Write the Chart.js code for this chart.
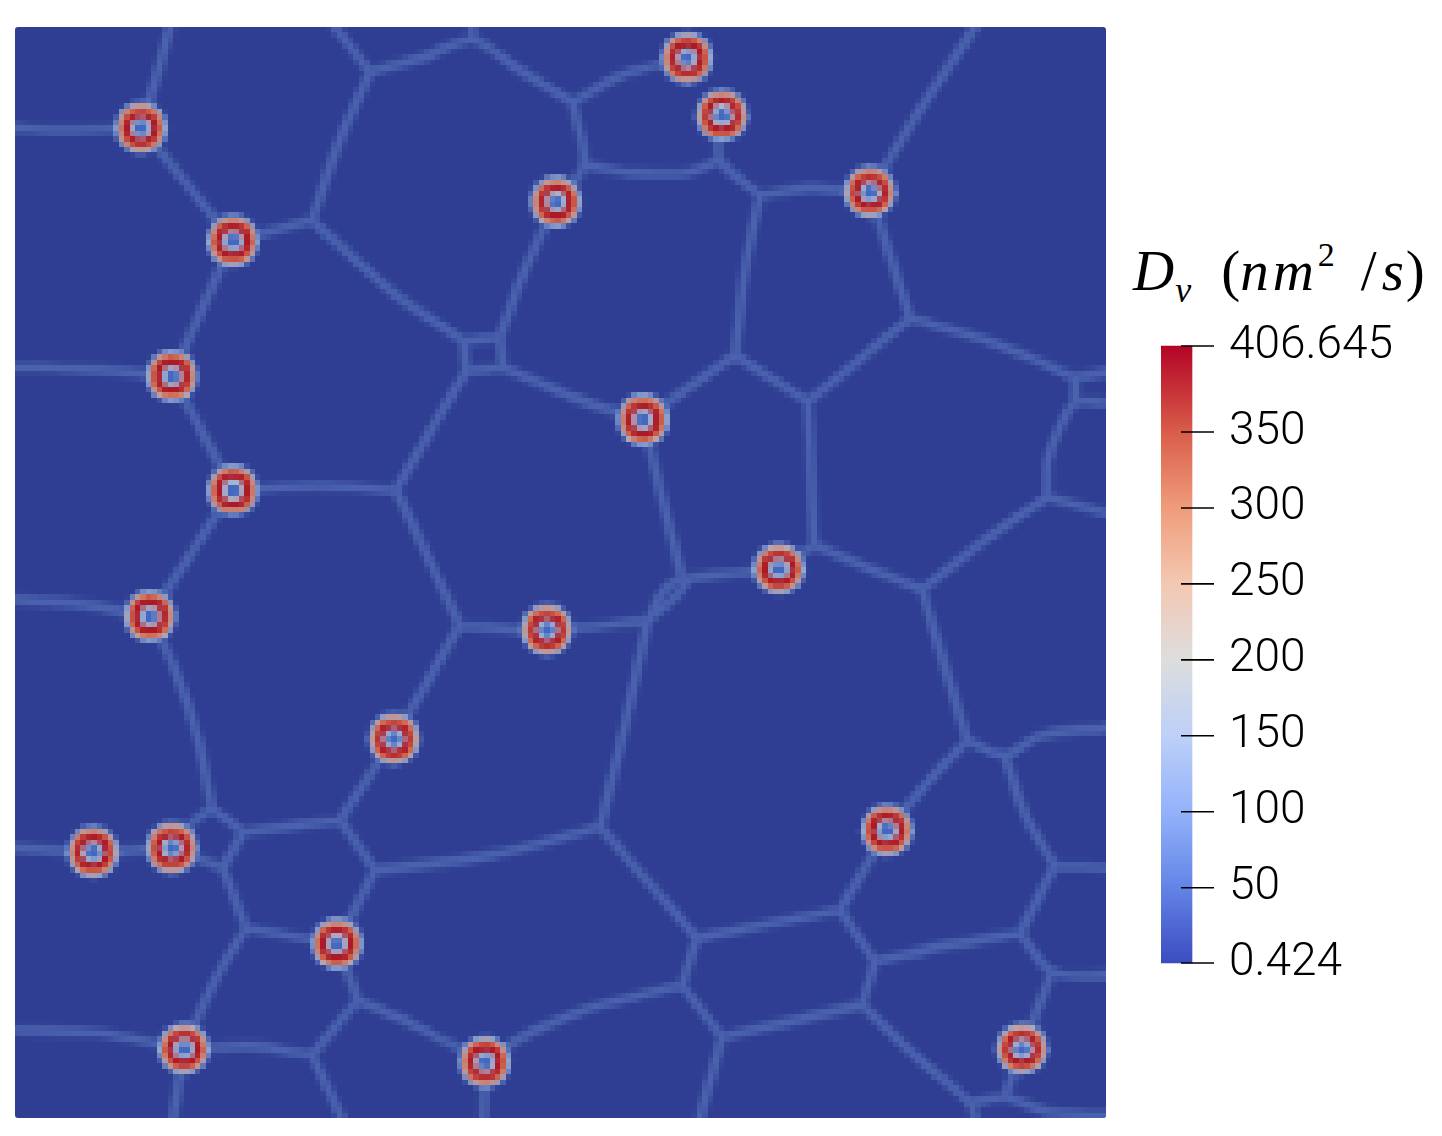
<!DOCTYPE html>
<html>
<head>
<meta charset="utf-8">
<title>D_v field</title>
<script src="https://cdn.jsdelivr.net/npm/chart.js@4"></script>
<style>
  html, body { margin: 0; background: #fff; }
  #page { position: relative; width: 1442px; height: 1136px; overflow: hidden; }
  #fieldChart { position: absolute; left: 15px; top: 27px; background: #2f3e92; border-radius: 3px; image-rendering: pixelated; }
  #barChart { position: absolute; left: 1161px; top: 320px; }
  #barTitle { position: absolute; left: 1133px; top: 236px; font: 57px "Liberation Serif", serif; color: #000; white-space: nowrap; line-height: 70px; }
  #barTitle i { font-style: italic; letter-spacing: 2px; }
  #barTitle .nm { letter-spacing: 4px; }
  #barTitle sub { font-size: 36px; vertical-align: -12px; line-height: 0; margin-left: -1px; }
  #barTitle sup { font-size: 34px; vertical-align: 24px; line-height: 0; margin-left: 0; }
  #barTitle .open { margin-left: 28px; }
  #barTitle .slash { margin-left: 26px; }
  #barTitle .s { margin-left: 5px; }
</style>
</head>
<body>
<div id="page">
  <canvas id="fieldChart" width="1091" height="1091"></canvas>
  <div id="barTitle"><i>D<sub>v</sub></i><span class="open">(</span><i class="nm">nm</i><sup>2</sup><span class="slash">/</span><i class="s">s</i>)</div>
  <canvas id="barChart" width="281" height="680"></canvas>
</div>
<script>
// 圆环中心，读自参考图
const ringX = [141, 233, 172, 233, 150, 394, 172, 93, 337, 184, 485, 547, 643, 556, 687, 722, 870, 779, 887, 1022];
const ringY = [128, 241, 376, 490, 616, 739, 848, 852, 944, 1049, 1062, 630, 420, 202, 58, 115, 192, 569, 830, 1049];

// 晶界折线 [x, y, x, y, ...]
const boundaries = [
  [170,27, 157,75, 141,128],
  [15,128, 60,130, 141,128],
  [141,128, 233,241],
  [233,241, 312,220],
  [312,220, 340,140, 370,72],
  [335,27, 370,72],
  [370,72, 425,57, 472,40, 520,70, 573,103],
  [472,27, 472,40],
  [573,103, 620,75, 687,58],
  [573,103, 584,165, 556,202],
  [584,165, 640,173, 690,172, 720,160],
  [722,115, 720,160, 760,195],
  [760,195, 810,188, 870,192],
  [760,195, 745,270, 735,355],
  [870,192, 885,240, 910,318],
  [870,192, 920,110, 975,27],
  [910,318, 808,402],
  [735,355, 808,402],
  [735,355, 643,420],
  [910,318, 1000,345, 1075,377],
  [1075,377, 1106,372],
  [1075,377, 1075,403],
  [1106,403, 1075,403, 1058,432, 1048,460, 1047,497],
  [1047,497, 1106,513],
  [1047,497, 985,540, 922,590],
  [808,402, 814,545],
  [814,545, 922,590],
  [779,569, 814,545],
  [922,590, 967,740],
  [967,740, 930,780, 887,830],
  [967,740, 1005,755, 1040,735, 1106,728],
  [1005,755, 1025,815, 1055,865],
  [1055,865, 1106,868],
  [1055,865, 1020,933],
  [1020,933, 950,945, 875,962],
  [1020,933, 1052,972, 1106,975],
  [1052,972, 1022,1049],
  [887,830, 840,910],
  [840,910, 697,938],
  [840,910, 875,962],
  [875,962, 862,1005],
  [862,1005, 722,1037],
  [862,1005, 920,1060, 970,1103, 975,1118],
  [1022,1049, 1005,1097],
  [970,1103, 1005,1097, 1050,1112, 1106,1115],
  [697,938, 682,985],
  [697,938, 600,827],
  [600,827, 625,725, 648,620],
  [600,827, 490,855, 375,870],
  [682,985, 722,1037],
  [682,985, 590,1008, 530,1033, 485,1062],
  [722,1037, 700,1118],
  [485,1062, 483,1118],
  [485,1062, 420,1028, 358,1000],
  [358,1000, 337,944],
  [358,1000, 312,1055],
  [312,1055, 250,1046, 184,1049],
  [312,1055, 342,1118],
  [184,1049, 173,1118],
  [184,1049, 100,1033, 15,1030],
  [184,1049, 215,980, 246,928],
  [246,928, 337,944],
  [246,928, 223,868],
  [172,848, 223,868],
  [223,868, 243,832],
  [212,808, 243,832],
  [212,808, 188,826],
  [150,616, 175,670, 197,735, 212,808],
  [243,832, 340,820],
  [340,820, 375,870],
  [340,820, 394,739],
  [375,870, 337,944],
  [15,848, 93,852, 172,848],
  [150,616, 80,604, 15,600],
  [150,616, 233,490],
  [233,490, 172,376],
  [172,376, 90,369, 15,367],
  [172,376, 233,241],
  [233,490, 320,486, 396,490],
  [396,490, 466,371],
  [396,490, 460,625],
  [460,625, 547,630, 648,620],
  [460,625, 394,739],
  [464,341, 500,337],
  [500,337, 503,367],
  [503,367, 466,371],
  [466,371, 464,341],
  [312,220, 390,290, 464,341],
  [500,337, 525,270, 556,202],
  [503,367, 575,398, 643,420],
  [643,420, 665,510, 682,578],
  [779,569, 735,573, 690,578],
  [690,578, 672,600, 648,620],
  [682,578, 664,590, 648,620]
];

// 色标
const barMin = 0.424;
const barMax = 406.645;
const barTicks = [0.424, 50, 100, 150, 200, 250, 300, 350, 406.645];
const barColors = ['#3b4cc0', '#6384e6', '#93b2fb', '#bdd0f8', '#dddddd', '#f3c8b2', '#f09c7c', '#d95d4a', '#b40426'];

// 把折线拼成一条，用 NaN 断开
function boundaryPoints() {
  const pts = [];
  boundaries.forEach(line => {
    for (let i = 0; i < line.length; i += 2) pts.push({ x: line[i], y: line[i + 1] });
    pts.push({ x: NaN, y: NaN });
  });
  return pts;
}

function ringLayer(radius, color) {
  return {
    type: 'scatter',
    data: ringX.map((x, i) => ({ x, y: ringY[i] })),
    pointRadius: radius,
    pointBackgroundColor: color,
    pointBorderWidth: 0
  };
}

function boundaryLayer(width, color) {
  return {
    type: 'line',
    data: boundaryPoints(),
    borderColor: color,
    borderWidth: width,
    borderCapStyle: 'round',
    borderJoinStyle: 'round',
    tension: 0.3,
    pointRadius: 0,
    spanGaps: false
  };
}

// 场图：画布分辨率只有约 200 格，放大后得到原图的方块感
new Chart(document.getElementById('fieldChart'), {
  data: {
    datasets: [
      ringLayer(6.5, '#4468c0'),
      ringLayer(11, '#b0c0d8'),
      ringLayer(17, '#ac1a28'),
      ringLayer(21.5, '#d26a50'),
      ringLayer(24.5, '#b4bfd2'),
      ringLayer(27, '#5f80c8'),
      boundaryLayer(7.5, '#4a62ad'),
      boundaryLayer(13, '#3a4d9e')
    ]
  },
  options: {
    responsive: false,
    animation: false,
    devicePixelRatio: 200 / 1091,
    layout: { padding: 0, autoPadding: false },
    plugins: { legend: { display: false }, tooltip: { enabled: false } },
    scales: {
      x: { type: 'linear', display: false, min: 15, max: 1106 },
      y: { type: 'linear', display: false, min: 27, max: 1118, reverse: true }
    }
  }
});

// 色标条的渐变，跟 y 轴对齐
function barGradient(context) {
  const chart = context.chart;
  const y = chart.scales.y;
  if (!chart.chartArea || !y) return barColors[0];
  const g = chart.ctx.createLinearGradient(0, y.getPixelForValue(barMin), 0, y.getPixelForValue(barMax));
  barTicks.forEach((v, i) => g.addColorStop((v - barMin) / (barMax - barMin), barColors[i]));
  return g;
}

new Chart(document.getElementById('barChart'), {
  data: {
    datasets: [
      {
        type: 'line',
        data: barTicks.map(v => ({ x: 36.5, y: v })),
        showLine: false,
        pointStyle: 'line',
        pointRadius: 16.5,
        pointBorderColor: '#000',
        pointBorderWidth: 1.6,
        clip: false
      },
      {
        type: 'bar',
        data: [{ x: 15.5, y: [barMin, barMax] }],
        barThickness: 31,
        backgroundColor: barGradient,
        borderWidth: 0,
        clip: false
      }
    ]
  },
  options: {
    responsive: false,
    animation: false,
    devicePixelRatio: 1,
    layout: { padding: { top: 26, bottom: 37 }, autoPadding: false },
    plugins: { legend: { display: false }, tooltip: { enabled: false } },
    scales: {
      x: { type: 'linear', display: false, min: 0, max: 53, offset: false },
      y: {
        type: 'linear',
        position: 'right',
        min: barMin,
        max: barMax,
        afterBuildTicks: axis => { axis.ticks = barTicks.map(value => ({ value })); },
        afterFit: axis => { axis.width = 228; axis.paddingTop = 0; axis.paddingBottom = 0; },
        grid: { display: false },
        border: { display: false },
        ticks: {
          autoSkip: false,
          crossAlign: 'near',
          padding: 7,
          color: '#000',
          font: { family: 'Roboto', size: 46, weight: 300 },
          callback: v => String(v)
        }
      }
    }
  }
});
</script>
</body>
</html>
